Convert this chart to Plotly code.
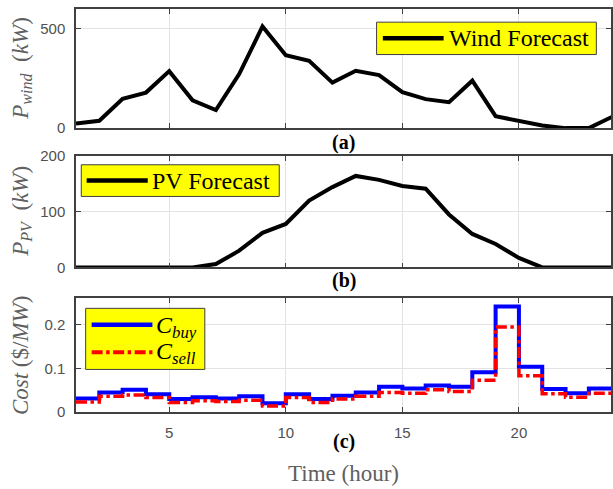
import plotly.graph_objects as go

hours = list(range(1, 25))
wind = [23, 37, 148, 179, 287, 140, 91, 272, 512, 367, 339, 229, 289, 267, 181, 146, 131, 239, 60, 35, 13, 0, 0, 57]
pv = [0, 0, 0, 0, 0, 0, 6, 30, 62, 78, 120, 144, 164, 157, 146, 141, 95, 60, 42, 17, 0, 0, 0, 0]
c_buy = [0.031, 0.045, 0.051, 0.041, 0.030, 0.034, 0.031, 0.036, 0.020, 0.041, 0.030, 0.037,
         0.045, 0.058, 0.054, 0.061, 0.058, 0.091, 0.242, 0.104, 0.053, 0.043, 0.054, 0.054]
c_sell = [0.023, 0.036, 0.039, 0.033, 0.022, 0.026, 0.024, 0.027, 0.014, 0.033, 0.022, 0.030,
          0.036, 0.045, 0.043, 0.051, 0.047, 0.073, 0.195, 0.083, 0.042, 0.034, 0.043, 0.043]
x_ticks = [5, 10, 15, 20]

W, H = 613, 489
L, R, T, B = 76, 0, 5, 77
plot_bottom = H - B
plot_h = H - T - B

def ydom(top_px, bot_px):
    return [(plot_bottom - bot_px) / plot_h, (plot_bottom - top_px) / plot_h]

panels = {"a": (5, 125.3), "b": (153.3, 266), "c": (296.7, 412)}

def xd(px):
    return (px - L) / (W - L - R)

def yd(py, panel):
    top, bot = panels[panel]
    return (bot - py) / (bot - top)

AX = "#404040"
GRID = "#e3e3e3"
TICKFONT = dict(family="Liberation Sans", size=15, color="#505050")
SERIF = "Liberation Serif"

fig = go.Figure()
fig.add_trace(go.Scatter(x=hours, y=wind, mode="lines", line=dict(color="black", width=4),
                         xaxis="x", yaxis="y", showlegend=False))
fig.add_trace(go.Scatter(x=hours, y=pv, mode="lines", line=dict(color="black", width=4),
                         xaxis="x2", yaxis="y2", showlegend=False))
fig.add_trace(go.Scatter(x=hours, y=c_buy, mode="lines", line=dict(color="#0000ff", width=4, shape="hv"),
                         xaxis="x3", yaxis="y3", showlegend=False))
fig.add_trace(go.Scatter(x=hours, y=c_sell, mode="lines",
                         line=dict(color="#ff0000", width=3.5, shape="hv", dash="11px,3.5px,3.5px,3.5px"),
                         xaxis="x3", yaxis="y3", showlegend=False))

def xaxis(anchor, labels):
    return dict(anchor=anchor, domain=[0, 1], range=[1, 23.95], tickvals=x_ticks,
                showticklabels=labels, ticks="inside", ticklen=5, tickwidth=1, tickcolor=AX,
                showline=True, linecolor=AX, linewidth=1.5, mirror="ticks",
                showgrid=True, gridcolor=GRID, gridwidth=1, zeroline=False,
                tickfont=TICKFONT, ticklabelstandoff=6)

def yaxis(anchor, dom, rng, tv, tt):
    return dict(anchor=anchor, domain=dom, range=rng, tickvals=tv, ticktext=tt,
                ticks="inside", ticklen=5, tickwidth=1, tickcolor=AX,
                showline=True, linecolor=AX, linewidth=1.5, mirror="ticks",
                showgrid=True, gridcolor=GRID, gridwidth=1, zeroline=False,
                tickfont=TICKFONT, ticklabelstandoff=6)

layout = dict(
    width=W, height=H, margin=dict(l=L, r=R, t=T, b=B),
    paper_bgcolor="white", plot_bgcolor="white", showlegend=False,
    xaxis=xaxis("y", False), xaxis2=xaxis("y2", False), xaxis3=xaxis("y3", True),
    yaxis=yaxis("x", ydom(*panels["a"]), [0, 600], [0, 500], ["0", "500"]),
    yaxis2=yaxis("x2", ydom(*panels["b"]), [0, 200], [0, 100, 200], ["0", "100", "200"]),
    yaxis3=yaxis("x3", ydom(*panels["c"]), [0, 0.262], [0, 0.1, 0.2], ["0", "0.1", "0.2"]),
)
fig.update_layout(**layout)

shapes = []
annotations = []

def legend_box(panel, xref, yref, x0, x1, y0, y1):
    shapes.append(dict(type="rect", xref=xref, yref=yref, x0=xd(x0), x1=xd(x1),
                       y0=yd(y0, panel), y1=yd(y1, panel), fillcolor="#ffff00",
                       line=dict(color="#404040", width=1), layer="above"))

def legend_line(panel, xref, yref, x0, x1, y, color, width, dash="solid"):
    shapes.append(dict(type="line", xref=xref, yref=yref, x0=xd(x0), x1=xd(x1),
                       y0=yd(y, panel), y1=yd(y, panel),
                       line=dict(color=color, width=width, dash=dash), layer="above"))

def legend_text(panel, xref, yref, x, y, text, size=24):
    annotations.append(dict(xref=xref, yref=yref, x=xd(x), y=yd(y, panel), text=text,
                            showarrow=False, xanchor="left", yanchor="middle",
                            font=dict(family=SERIF, size=size, color="black")))

# Wind legend
legend_box("a", "x domain", "y domain", 377.7, 598.3, 18.3, 51)
legend_line("a", "x domain", "y domain", 384, 445, 34.5, "black", 4.5)
legend_text("a", "x domain", "y domain", 448, 34.5, "Wind Forecast")
# PV legend
legend_box("b", "x2 domain", "y2 domain", 81.3, 280, 162.3, 194.3)
legend_line("b", "x2 domain", "y2 domain", 86.7, 148, 178.3, "black", 4.5)
legend_text("b", "x2 domain", "y2 domain", 150, 178.3, "PV Forecast")
# Cost legend
legend_box("c", "x3 domain", "y3 domain", 85.7, 205.3, 307.3, 369)
legend_line("c", "x3 domain", "y3 domain", 91.7, 152.7, 324, "#0000ff", 4.5)
legend_line("c", "x3 domain", "y3 domain", 91.7, 152.7, 351.7, "#ff0000", 4, "11px,3.5px,3.5px,3.5px")
legend_text("c", "x3 domain", "y3 domain", 154, 326, "<i>C</i><sub><i>buy</i></sub>")
legend_text("c", "x3 domain", "y3 domain", 154, 352, "<i>C</i><sub><i>sell</i></sub>")

# panel labels
for lab, y in [("(a)", 140), ("(b)", 279), ("(c)", 441.5)]:
    annotations.append(dict(xref="paper", yref="paper", x=xd(345), y=(plot_bottom - y) / plot_h,
                            text="<b>" + lab + "</b>", showarrow=False, xanchor="center", yanchor="middle",
                            font=dict(family=SERIF, size=20, color="black")))

# axis titles
TITLEC = "#606060"
for text, panel in [("<i>P</i><sub><i>wind</i></sub>  (<i>kW</i>)", "a"),
                    ("<i>P</i><sub><i>PV</i></sub>  (<i>kW</i>)", "b"),
                    ("<i>Cost</i> ($/<i>MW</i>)", "c")]:
    top, bot = panels[panel]
    annotations.append(dict(xref="paper", yref="paper", x=xd(21), y=(plot_bottom - (top + bot) / 2) / plot_h,
                            text=text, showarrow=False, textangle=-90, xanchor="center", yanchor="middle",
                            font=dict(family=SERIF, size=23, color=TITLEC)))
annotations.append(dict(xref="paper", yref="paper", x=xd(345), y=(plot_bottom - 474) / plot_h,
                        text="Time (hour)", showarrow=False, xanchor="center", yanchor="middle",
                        font=dict(family=SERIF, size=23, color=TITLEC)))

fig.update_layout(shapes=shapes, annotations=annotations)
fig.write_html("out.html")
